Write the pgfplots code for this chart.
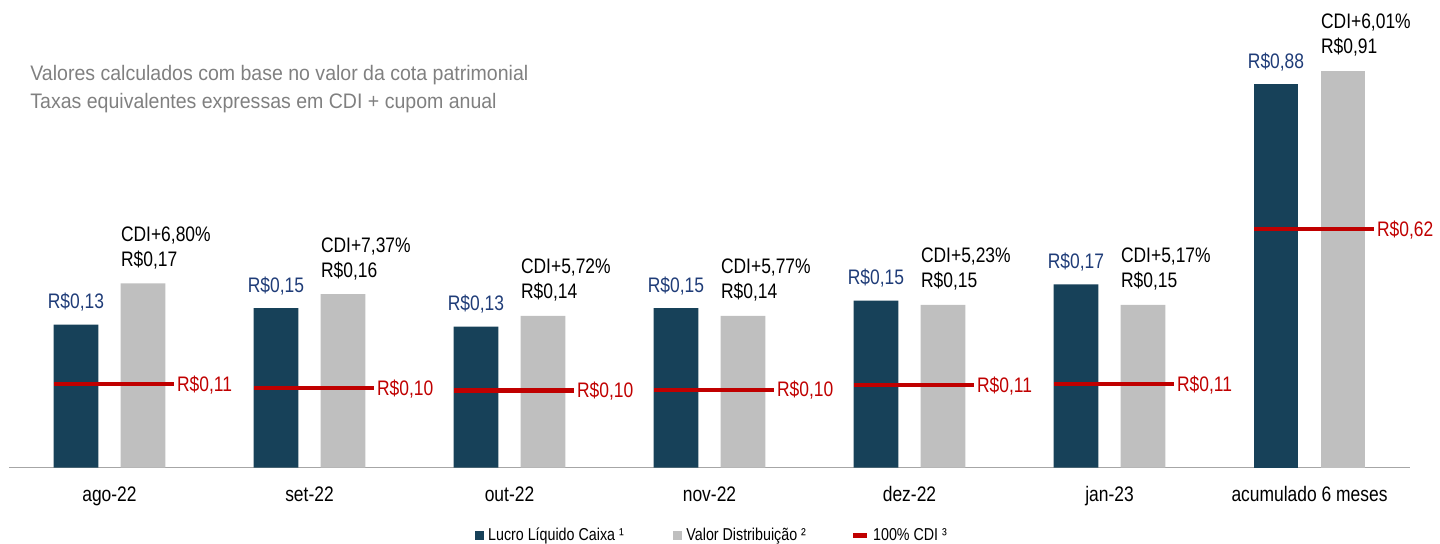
\documentclass[border=0pt]{standalone}
\usepackage{pgfplots}
\pgfplotsset{compat=1.18}
\usepackage{pgfplotstable}
\usepackage{fontspec}
\setmainfont{Liberation Sans}[FakeStretch=0.83]
\newfontfamily\notafont{Liberation Sans}[FakeStretch=0.93]

\definecolor{lucro}{HTML}{174159}
\definecolor{distrib}{HTML}{BFBFBF}
\definecolor{cdi}{HTML}{C00000}
\definecolor{navy}{HTML}{1F3C78}
\definecolor{nota}{HTML}{808080}
\definecolor{eixo}{HTML}{A6A6A6}

\newcommand\fval{\fontsize{10.5}{12.5}\selectfont}
\newcommand\fleg{\fontsize{8.6}{10}\selectfont}

% monthly values (R$ per quota), CDI spread in taxa
\pgfplotstableread{
x lucro distrib cdi taxa
0 0.132 0.170 0.109 6,80
1 0.147 0.160 0.104 7,37
2 0.130 0.140 0.101 5,72
3 0.147 0.140 0.102 5,77
4 0.154 0.150 0.108 5,23
5 0.169 0.150 0.109 5,17
}\mensal

% accumulated 6 months (drawn on its own scale)
\pgfplotstableread{
x lucro distrib cdi taxa
6 0.88 0.91 0.62 6,01
}\acum

\pgfplotsset{
  painel/.style={
    scale only axis, width=700.5pt, height=233.85pt,
    at={(4.5pt,37.65pt)}, anchor=south west,
    xmin=-0.5025, xmax=6.5025, ymin=0, clip=false,
    /pgf/number format/fixed, /pgf/number format/fixed zerofill,
    /pgf/number format/precision=2, /pgf/number format/use comma,
    /pgf/number format/assume math mode=true,
  },
  barras/.style={
    ybar, bar width=0.2235,
  },
  lucrobar/.style={
    bar shift=-0.1675, fill=lucro, draw=none, point meta=y,
    nodes near coords={R\$\pgfmathprintnumber{\pgfplotspointmeta}},
    nodes near coords style={font=\fval, text=navy, anchor=base, yshift=8pt, inner sep=0pt},
  },
  distribbar/.style={
    bar shift=0.1675, fill=distrib, draw=none, point meta=explicit symbolic,
    visualization depends on={rawy \as \valor},
    nodes near coords={\begin{tabular}[b]{@{}l@{}}CDI+\pgfplotspointmeta\%\\R\$\pgfmathprintnumber{\valor}\end{tabular}},
    nodes near coords style={font=\fval, text=black, anchor=base west, xshift=-11.175pt, yshift=8.5pt, inner sep=0pt},
  },
  cdiline/.style={
    draw=none, mark=none, point meta=y,
    error bars/.cd, x dir=both, x explicit, error mark=none,
    error bar style={draw=cdi, line width=2.1pt},
    /pgfplots/.cd,
    nodes near coords={R\$\pgfmathprintnumber{\pgfplotspointmeta}},
    nodes near coords style={font=\fval, text=cdi, anchor=base west, xshift=33.6pt, yshift=-3.65pt, inner sep=0pt},
  },
}

\begin{document}
\begin{tikzpicture}
\path[use as bounding box] (0pt,0pt) rectangle (720pt,271.5pt);

% monthly bars
\begin{axis}[painel, barras, ymax=0.4311,
    axis x line*=bottom, axis y line=none,
    x axis line style={-, draw=eixo, line width=0.6pt},
    xtick={0,...,6},
    xticklabels={ago-22,set-22,out-22,nov-22,dez-22,jan-23,acumulado 6 meses},
    major tick length=0pt, ytick=\empty,
    xticklabel style={font=\fval, anchor=base, yshift=-17pt, inner sep=0pt},
    legend columns=-1,
    legend style={draw=none, fill=none, font=\fleg, inner sep=0pt,
      nodes={inner sep=0pt}, column sep=0pt,
      at={(0.332,-0.145)}, anchor=west},
  ]
  \addplot[lucrobar, legend image code/.code={\fill[lucro] (0pt,-2.4pt) rectangle (4.8pt,2.4pt);}]
    table[x=x, y=lucro] {\mensal};
  \addlegendentry{\rule{2pt}{0pt}Lucro Líquido Caixa ¹\rule{24.5pt}{0pt}}
  \addplot[distribbar, legend image code/.code={\fill[distrib] (0pt,-2.4pt) rectangle (4.8pt,2.4pt);}]
    table[x=x, y=distrib, meta=taxa] {\mensal};
  \addlegendentry{\rule{2pt}{0pt}Valor Distribuição ²\rule{22.5pt}{0pt}}
  \addlegendimage{legend image code/.code={\draw[cdi, line width=2.1pt] (0pt,0pt) -- (7pt,0pt);}}
  \addlegendentry{\rule{2pt}{0pt}100\% CDI ³}
\end{axis}

% monthly 100% CDI
\begin{axis}[painel, hide axis, ymax=0.6114]
  \addplot[cdiline] table[x=x, y=cdi, x error plus expr=0.3225, x error minus expr=0.279] {\mensal};
\end{axis}

% accumulated bars
\begin{axis}[painel, barras, hide axis, ymax=1.0727]
  \addplot[lucrobar] table[x=x, y=lucro] {\acum};
  \addplot[distribbar] table[x=x, y=distrib, meta=taxa] {\acum};
\end{axis}

% accumulated 100% CDI
\begin{axis}[painel, hide axis, ymax=1.2164]
  \addplot[cdiline] table[x=x, y=cdi, x error plus expr=0.3225, x error minus expr=0.279] {\acum};
\end{axis}

\node[anchor=base west, inner sep=0pt, text=nota, font=\fval\notafont] at (15pt,231.5pt)
  {Valores calculados com base no valor da cota patrimonial};
\node[anchor=base west, inner sep=0pt, text=nota, font=\fval\notafont] at (15pt,217.35pt)
  {Taxas equivalentes expressas em CDI + cupom anual};
\end{tikzpicture}
\end{document}
